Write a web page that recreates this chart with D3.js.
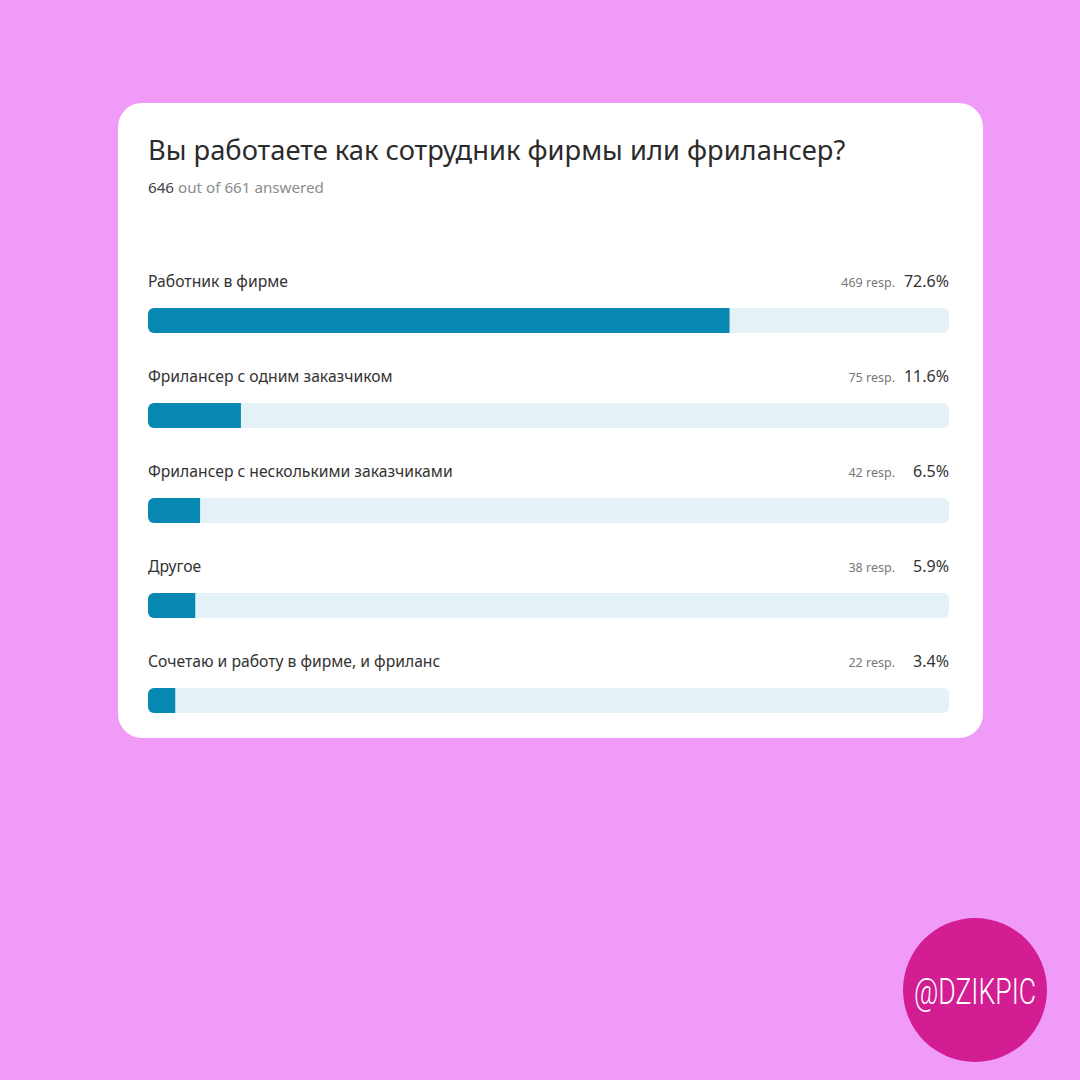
<!DOCTYPE html>
<html lang="ru">
<head>
<meta charset="UTF-8">
<title>Вы работаете как сотрудник фирмы или фрилансер?</title>
<script src="https://d3js.org/d3.v7.min.js"></script>
<style>
  html, body { margin: 0; padding: 0; background: #f09bf8; }
  svg { display: block; }
</style>
</head>
<body>
<svg id="chart" width="1080" height="1080"></svg>
<script>
// answers, responses and shares as read from the poll
const answers = [
  "Работник в фирме",
  "Фрилансер с одним заказчиком",
  "Фрилансер с несколькими заказчиками",
  "Другое",
  "Сочетаю и работу в фирме, и фриланс"
];
const responses = [469, 75, 42, 38, 22];
const shares = [72.6, 11.6, 6.5, 5.9, 3.4];
const answered = 646, total = 661;

const rows = answers.map((a, i) => ({ label: a, resp: responses[i], pct: shares[i] }));

const svg = d3.select("#chart");
const font = "'Noto Sans', 'DejaVu Sans', sans-serif";

// card
svg.append("rect").attr("x", 118).attr("y", 103).attr("width", 865).attr("height", 635)
  .attr("rx", 24).attr("fill", "#ffffff");

svg.append("text").attr("x", 148).attr("y", 160)
  .attr("font-family", font).attr("font-size", 27.3).attr("fill", "#2b2b2b")
  .text("Вы работаете как сотрудник фирмы или фрилансер?");

const sub = svg.append("text").attr("x", 148).attr("y", 193)
  .attr("font-family", font).attr("font-size", 15.2).attr("fill", "#8c8c8c");
sub.append("tspan").attr("fill", "#444").text(answered);
sub.append("tspan").text(` out of ${total} answered`);

// scales
const x = d3.scaleLinear().domain([0, 100]).range([148, 949]);
const y = d3.scaleBand().domain(answers).range([260, 735]).paddingInner(0).paddingOuter(0);
const barH = 25;

const g = svg.append("g");
const row = g.selectAll("g.row").data(rows).join("g").attr("class", "row")
  .attr("transform", d => `translate(0,${y(d.label)})`);

row.append("text").attr("x", 148).attr("y", 27)
  .attr("font-family", font).attr("font-size", 15.7).attr("fill", "#333")
  .text(d => d.label);

row.append("text").attr("x", x(100)).attr("y", 27).attr("text-anchor", "end")
  .attr("font-family", font).attr("font-size", 16).attr("fill", "#333")
  .text(d => d.pct.toFixed(1) + "%");

row.append("text").attr("x", x(100) - 54).attr("y", 27).attr("text-anchor", "end")
  .attr("font-family", font).attr("font-size", 12.5).attr("fill", "#777")
  .text(d => d.resp + " resp.");

row.append("clipPath").attr("id", (d, i) => "clip" + i)
  .append("rect").attr("x", x(0)).attr("y", 48).attr("width", x(100) - x(0)).attr("height", barH).attr("rx", 6);

row.append("rect").attr("x", x(0)).attr("y", 48).attr("width", x(100) - x(0)).attr("height", barH)
  .attr("rx", 6).attr("fill", "#e4f1f6");

row.append("rect").attr("clip-path", (d, i) => `url(#clip${i})`)
  .attr("x", x(0)).attr("y", 48).attr("width", d => x(d.pct) - x(0)).attr("height", barH)
  .attr("fill", "#0788b2");

// badge
svg.append("circle").attr("cx", 975).attr("cy", 990).attr("r", 72).attr("fill", "#d21d93");
svg.append("text").attr("x", 975).attr("y", 1004).attr("text-anchor", "middle")
  .attr("font-family", "Roboto, sans-serif").attr("font-weight", 300).attr("font-size", 37)
  .attr("fill", "#ffffff").attr("transform", "translate(975,0) scale(0.72,1) translate(-975,0)")
  .text("@DZIKPIC");
</script>
</body>
</html>
